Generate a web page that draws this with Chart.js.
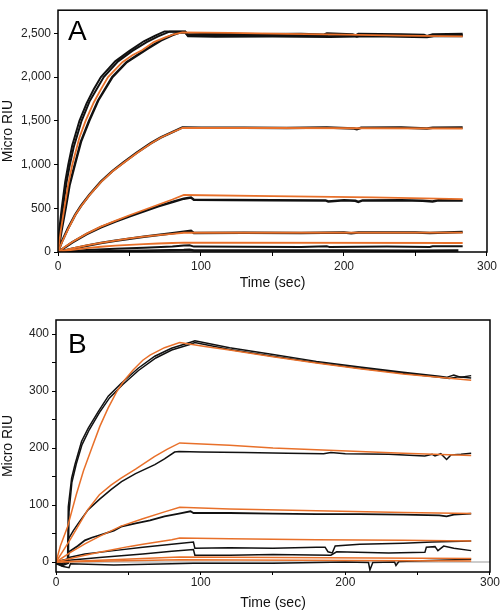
<!DOCTYPE html>
<html>
<head>
<meta charset="utf-8">
<script src="https://cdn.jsdelivr.net/npm/chart.js@4"></script>
<style>
  body { margin: 0; background: #fff; }
  #wrap { position: relative; width: 500px; height: 612px; }
  canvas { position: absolute; left: 0; }
</style>
</head>
<body>
<div id="wrap">
  <canvas id="chartA" width="500" height="300" style="top:0"></canvas>
  <canvas id="chartB" width="500" height="312" style="top:300px"></canvas>
</div>
<script>
// tick positions
const timeTicks = [0, 50, 100, 150, 200, 250, 300];
const aRiuTicks = [0, 500, 1000, 1500, 2000, 2500];
const bRiuTicks = [0, 50, 100, 150, 200, 250, 300, 350, 400];

// Panel A readings, [time (sec), micro RIU]
const aFit1 = [[0,0],[2,250],[4.4,500],[7,760],[10,1000],[15,1310],[19.3,1500],[25,1710],[30,1860],[35,2000],[45,2170],[52,2250],[59,2310],[67,2400],[75,2455],[81,2490],[87,2512],[120,2505],[160,2495],[200,2485],[240,2475],[283,2465]];
const aObs1a = [[0,0],[1,270],[2.6,500],[5,800],[7.2,1000],[10,1220],[15,1500],[20,1700],[25,1860],[30,2000],[40,2180],[50,2300],[60,2410],[68,2475],[74.5,2522],[89,2522],[90,2490],[110,2495],[140,2492],[170,2496],[186,2488],[188,2500],[206,2490],[208,2478],[210,2495],[240,2490],[256,2485],[258,2470],[262,2490],[283,2495]];
const aObs1b = [[0,0],[1.5,270],[3.4,500],[6,800],[8.3,1000],[11,1200],[16.5,1500],[22,1720],[27,1860],[32,2000],[42,2180],[52,2300],[62,2400],[70,2465],[78,2520],[89,2520],[91,2480],[120,2482],[150,2480],[187,2478],[189,2468],[207,2476],[209,2462],[212,2478],[245,2474],[258,2466],[262,2480],[283,2482]];
const aObs1c = [[0,0],[2.5,250],[5.3,500],[8,760],[11.8,1000],[16,1260],[21.8,1500],[28,1730],[38,2000],[48,2170],[62,2320],[72,2420],[80,2480],[85,2510],[89,2512],[91,2470],[110,2465],[150,2468],[190,2462],[220,2470],[258,2458],[264,2472],[283,2470]];
const aFit2 = [[0,0],[3,120],[7,260],[12,420],[16,520],[22,650],[30,800],[38,920],[46,1020],[55,1130],[65,1240],[72,1310],[80,1370],[87,1420],[150,1418],[220,1415],[283,1412]];
const aObs2 = [[0,0],[3,130],[7,270],[12,425],[16,525],[22,655],[30,805],[38,925],[46,1025],[55,1135],[65,1245],[72,1310],[80,1372],[87,1425],[100,1420],[130,1422],[160,1418],[188,1425],[207,1412],[209,1405],[212,1420],[240,1424],[258,1412],[262,1420],[283,1425]];
const aFit3 = [[0,0],[5,60],[10,115],[20,210],[30,290],[40,355],[50,420],[60,480],[70,540],[80,600],[88,652],[150,640],[220,625],[283,605]];
const aObs3 = [[0,0],[5,55],[10,110],[20,205],[30,283],[40,348],[50,408],[60,465],[70,522],[80,572],[88,610],[93,622],[95,598],[120,595],[150,592],[187,590],[189,578],[200,592],[208,585],[210,572],[213,590],[240,592],[255,585],[262,578],[266,592],[283,590]];
const aFit4 = [[0,0],[10,40],[20,75],[30,105],[40,130],[50,155],[60,175],[70,192],[80,207],[88,220],[283,222]];
const aObs4 = [[0,0],[10,38],[20,72],[30,102],[40,128],[50,152],[60,175],[70,195],[80,215],[88,232],[93,243],[95,218],[130,220],[170,218],[200,222],[205,214],[210,222],[250,222],[260,216],[283,228]];
const aFit5 = [[0,0],[10,25],[20,45],[30,60],[40,72],[50,82],[60,90],[70,97],[80,103],[88,107],[283,103]];
const aObs5a = [[0,0],[20,22],[40,38],[60,50],[80,62],[88,75],[92,78],[95,62],[130,60],[170,58],[188,66],[190,56],[230,62],[260,58],[262,66],[283,66]];
const aObs5b = [[0,0],[30,8],[60,14],[88,22],[92,25],[95,18],[150,16],[200,18],[250,15],[280,18]];

// Panel B readings
const bFit1 = [[0,0],[3,28],[8,62],[14,118],[19,160],[25,202],[30.3,238],[36,270],[41.8,298],[47,318],[53.3,337],[60,354],[65,363],[75,376],[85.5,385],[103,378],[120,372],[150,360],[180,349],[210,339],[240,330],[287,319]];
const bObs1a = [[0,0],[4,-5],[8,0],[8.5,97],[10.8,147],[13.1,171],[17.7,212],[22.3,235],[29.2,264],[36.1,291],[45.3,314],[56.8,340],[68.3,361],[79.8,375],[93.6,386],[96,388],[120,376],[150,364],[180,352],[210,342],[240,333],[265,326],[270,324],[275,328],[280,324],[287,327]];
const bObs1b = [[0,0],[4,-7],[8.5,-2],[9,88],[11,140],[14,172],[18,206],[23,232],[30,262],[37,288],[46,311],[57,336],[69,358],[80,372],[93,382],[96,385],[120,373],[150,361],[180,350],[210,340],[240,331],[265,324],[272,322],[278,325],[287,323]];
const bFit2 = [[0,0],[5,20],[10,40],[16,66],[22,92],[30,118],[38,135],[45,147],[55,163],[68,185],[77,198],[85.5,209],[120,205],[150,200],[180,197],[210,194],[240,191],[287,187]];
const bObs2 = [[0,0],[4,-3],[8,2],[8.5,40],[12,55],[16,70],[22.3,92],[30,110],[38,127],[45.3,141],[55,155],[68.3,171],[75,181],[82,193],[85,194],[100,193],[130,192],[160,191],[185,190],[190,192],[200,190],[230,189],[255,186],[260,189],[262,186],[266,190],[270,180],[273,188],[280,189],[287,191]];
const bFit3 = [[0,0],[10,17],[20,32],[30,45],[45,63],[60,76],[75,88],[85.5,96],[120,93],[180,90],[240,87],[287,85]];
const bObs3 = [[0,0],[8,5],[9,18],[15,28],[20,38],[25,43],[30,47],[40,55],[45,62],[55,68],[65,73],[75,80],[85,85],[93,89],[95,86],[120,86],[150,85],[180,84],[210,84],[240,83],[265,82],[270,80],[275,83],[287,85]];
const bFit4 = [[0,0],[10,6],[20,12],[30,17],[40,22],[50,27],[60,31],[70,35],[80,39],[85.5,42],[120,41],[180,39],[240,38],[287,37]];
const bObs4a = [[0,0],[8,3],[9,8],[20,14],[40,20],[60,26],[80,31],[95,35],[96,24],[120,25],[150,24],[180,26],[186,26],[188,18],[191,16],[193,28],[210,31],[240,33],[260,35],[287,37]];
const bObs4b = [[0,0],[9,3],[30,8],[60,14],[80,19],[95,22],[96,12],[120,12],[150,13],[190,12],[194,18],[230,16],[255,17],[256,26],[262,27],[264,20],[268,28],[275,24],[287,20]];
const bObs4c = [[0,-3],[5,-8],[9,-10],[10,-3],[40,-5],[80,-3],[95,-2],[150,-2],[200,0],[216,-1],[217,-14],[219,-1],[234,0],[235,-6],[237,1],[287,5]];
const bFit5 = [[0,0],[85.5,9],[287,6]];
const bFit6 = [[0,0],[85.5,4],[287,2]];
const bZero = [[0,0],[300,0]];

const ORANGE = '#e8702a';
const BLACK = '#111';

Chart.defaults.font.family = "'Liberation Sans', Arial, sans-serif";

function line(points, color, width, order) {
    return {
        data: points.map(p => ({ x: p[0], y: p[1] })),
        borderColor: color,
        borderWidth: width,
        pointRadius: 0,
        showLine: true,
        fill: false,
        tension: 0,
        order: order
    };
}

// box around the plot and the panel letter
const panelDecor = {
    id: 'panelDecor',
    afterDatasetsDraw(chart, args, opts) {
        const { ctx, chartArea: a } = chart;
        ctx.save();
        ctx.strokeStyle = '#000';
        ctx.lineWidth = 1.5;
        ctx.strokeRect(a.left, a.top, a.right - a.left, a.bottom - a.top);
        ctx.fillStyle = '#000';
        ctx.font = "28px 'Liberation Sans', Arial, sans-serif";
        ctx.fillText(opts.letter, a.left + opts.dx, a.top + opts.dy);
        ctx.restore();
    }
};

function makeChart(canvasId, datasets, s) {
    const ctx = document.getElementById(canvasId).getContext('2d');
    return new Chart(ctx, {
        type: 'scatter',
        data: { datasets: datasets },
        plugins: [panelDecor],
        options: {
            responsive: false,
            animation: false,
            layout: { padding: s.padding },
            plugins: {
                legend: { display: false },
                tooltip: { enabled: false },
                panelDecor: { letter: s.letter, dx: s.letterDx, dy: s.letterDy }
            },
            scales: {
                x: {
                    type: 'linear', min: 0, max: 300,
                    afterBuildTicks: sc => { sc.ticks = timeTicks.map(v => ({ value: v })); },
                    afterFit: sc => { sc.height = s.xHeight; },
                    border: { display: false },
                    grid: { display: true, drawOnChartArea: false, drawTicks: true, tickLength: s.xTick, color: '#000' },
                    ticks: {
                        padding: s.xPad, color: '#222', font: { size: 12 },
                        maxRotation: 0, autoSkip: false,
                        callback: v => v % 100 === 0 ? String(v) : ''
                    },
                    title: { display: true, text: 'Time (sec)', color: '#111', font: { size: 14 }, padding: { top: s.xTitlePad, bottom: s.xTitlePad } }
                },
                y: {
                    type: 'linear', min: s.yMin, max: s.yMax,
                    afterBuildTicks: sc => { sc.ticks = s.yTicks.map(v => ({ value: v })); },
                    afterFit: sc => { sc.width = s.yWidth; },
                    border: { display: false },
                    grid: { display: true, drawOnChartArea: false, drawTicks: true, tickLength: 4, color: '#000' },
                    ticks: {
                        padding: 3, color: '#222', font: { size: 12 }, autoSkip: false,
                        callback: v => v % s.yLabelEvery === 0 ? v.toLocaleString('en-US') : ''
                    },
                    title: { display: true, text: 'Micro RIU', color: '#111', font: { size: 14 }, padding: { top: 0, bottom: 0 } }
                }
            }
        }
    });
}

makeChart('chartA', [
    line(aFit1, ORANGE, 1.8, 0),
    line(aFit2, ORANGE, 1.8, 0),
    line(aFit3, ORANGE, 1.8, 0),
    line(aFit4, ORANGE, 1.8, 0),
    line(aFit5, ORANGE, 1.8, 0),
    line(aObs1a, BLACK, 2, 1),
    line(aObs1b, BLACK, 2, 1),
    line(aObs1c, BLACK, 2.5, 1),
    line(aObs2, BLACK, 2.5, 1),
    line(aObs3, BLACK, 2.5, 1),
    line(aObs4, BLACK, 2.5, 1),
    line(aObs5a, BLACK, 2, 1),
    line(aObs5b, BLACK, 2.5, 1)
], {
    padding: { left: 0, top: 2, right: 11, bottom: 0 },
    xHeight: 48, xTick: 4, xPad: 3, xTitlePad: 8,
    yWidth: 58, yMin: 0, yMax: 2765, yTicks: aRiuTicks, yLabelEvery: 500,
    letter: 'A', letterDx: 10, letterDy: 30
});

makeChart('chartB', [
    line(bFit1, ORANGE, 1.5, 0),
    line(bFit2, ORANGE, 1.5, 0),
    line(bFit3, ORANGE, 1.5, 0),
    line(bFit4, ORANGE, 1.5, 0),
    line(bFit5, ORANGE, 1.5, 0),
    line(bFit6, ORANGE, 1.5, 0),
    line(bObs1a, BLACK, 1.5, 1),
    line(bObs1b, BLACK, 1.5, 1),
    line(bObs2, BLACK, 1.5, 1),
    line(bObs3, BLACK, 1.8, 1),
    line(bObs4a, BLACK, 1.5, 1),
    line(bObs4b, BLACK, 1.5, 1),
    line(bObs4c, BLACK, 1.5, 1),
    line(bZero, '#bbbbbb', 1.5, 2)
], {
    padding: { left: 0, top: 20, right: 9, bottom: 0 },
    xHeight: 40, xTick: 3, xPad: 0, xTitlePad: 0,
    yWidth: 56, yMin: -17.5, yMax: 424.6, yTicks: bRiuTicks, yLabelEvery: 100,
    letter: 'B', letterDx: 12, letterDy: 33
});
</script>
</body>
</html>
